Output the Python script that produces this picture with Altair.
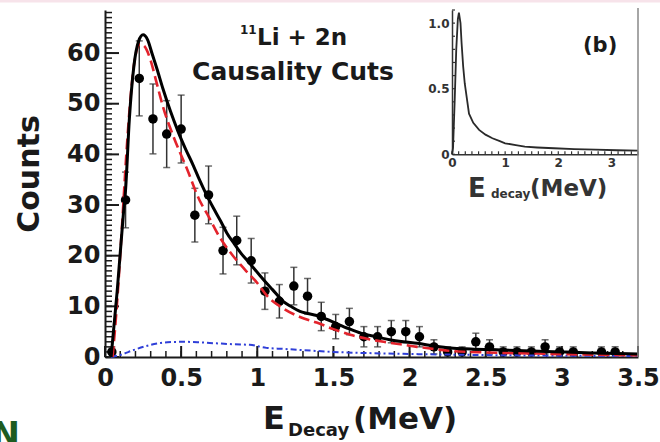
import altair as alt
import pandas as pd

# ---- measured decay-energy spectrum: bin centre (MeV), counts, stat. error ----
e_decay = [0.045, 0.135, 0.225, 0.315, 0.405, 0.50, 0.59, 0.68, 0.775, 0.865,
           0.96, 1.05, 1.145, 1.24, 1.33, 1.42, 1.515, 1.605, 1.70, 1.79,
           1.88, 1.975, 2.065, 2.16, 2.25, 2.345, 2.435, 2.525, 2.615, 2.705,
           2.80, 2.89, 2.985, 3.075, 3.26, 3.35]
counts = [1, 31, 55, 47, 44, 45, 28, 32, 21, 23,
          19, 13, 11, 14, 12, 8, 6, 7, 4, 4,
          5, 5, 4, 2, 1, 1, 3, 2, 1, 1,
          1, 2, 1, 1, 1, 1]
errors = [1.0, 5.5, 7.4, 6.9, 6.6, 6.7, 5.3, 5.7, 4.6, 4.8,
          4.4, 3.6, 3.3, 3.7, 3.5, 2.8, 2.4, 2.6, 2.0, 2.0,
          2.2, 2.2, 2.0, 1.4, 1.0, 1.0, 1.7, 1.4, 1.0, 1.0,
          1.0, 1.4, 1.0, 1.0, 1.0, 1.0]

# ---- total fit (solid black) ----
total_e = [0.04, 0.08, 0.12, 0.135, 0.16, 0.19, 0.22, 0.25, 0.28, 0.31, 0.34,
           0.38, 0.43, 0.48, 0.53, 0.58, 0.62, 0.67, 0.71, 0.76, 0.80, 0.85,
           0.89, 0.95, 1.02, 1.06, 1.10, 1.17, 1.22, 1.28, 1.33, 1.39, 1.45,
           1.52, 1.60, 1.68, 1.78, 1.87, 1.96, 2.05, 2.16, 2.27, 2.40, 2.60,
           2.80, 3.00, 3.20, 3.50]
total_c = [0.0, 13.0, 28.0, 33.0, 47.0, 57.5, 62.3, 63.6, 62.6, 59.8, 57.0,
           53.0, 48.5, 44.5, 41.0, 37.8, 35.0, 31.8, 29.5, 26.8, 24.5, 22.3,
           20.6, 18.5, 16.0, 14.6, 13.3, 11.0, 10.0, 9.0, 8.6, 8.2, 7.5,
           6.6, 5.6, 4.7, 4.0, 3.4, 3.0, 2.7, 2.2, 1.8, 1.6, 1.4,
           1.2, 1.0, 0.8, 0.6]

# ---- 2n component (red dashed) ----
red_e = [0.05, 0.08, 0.11, 0.14, 0.17, 0.20, 0.23, 0.26, 0.30, 0.34, 0.38,
         0.45, 0.54, 0.62, 0.67, 0.75, 0.84, 0.92, 1.00, 1.06, 1.17, 1.28,
         1.39, 1.50, 1.61, 1.72, 1.83, 1.94, 2.05, 2.16, 2.27, 2.50, 2.80,
         3.10, 3.50]
red_c = [0.0, 11.0, 25.0, 40.0, 52.0, 59.5, 61.8, 61.3, 58.5, 54.0, 49.5,
         43.5, 37.0, 31.0, 28.3, 23.8, 20.0, 17.2, 14.6, 12.2, 9.6, 7.9,
         6.8, 5.5, 4.4, 3.6, 3.0, 2.5, 2.0, 1.6, 1.2, 0.9, 0.7,
         0.5, 0.35]

# ---- background component (blue dash-dot) ----
blue_e = [0.04, 0.10, 0.19, 0.30, 0.41, 0.52, 0.62, 0.73, 0.85, 0.95, 1.06,
          1.17, 1.28, 1.50, 1.83, 2.20, 2.60, 3.00, 3.50]
blue_c = [0.0, 0.4, 1.4, 2.4, 2.9, 3.0, 2.9, 2.7, 2.5, 2.4, 1.8,
          1.6, 1.4, 1.0, 0.7, 0.5, 0.35, 0.25, 0.2]

# ---- inset (b): normalised decay-energy line shape ----
inset_e = [0.0, 0.02, 0.05, 0.08, 0.11, 0.13, 0.16, 0.18, 0.21, 0.24, 0.32,
           0.40, 0.51, 0.63, 0.76, 0.90, 1.00, 1.20, 1.37, 1.60, 1.92, 2.30,
           2.70, 3.10, 3.50]
inset_y = [0.0, 0.05, 0.40, 0.80, 1.03, 1.08, 1.00, 0.85, 0.67, 0.54, 0.31,
           0.24, 0.186, 0.15, 0.122, 0.10, 0.084, 0.07, 0.058, 0.052, 0.046,
           0.04, 0.035, 0.031, 0.028]

# tick positions
x_major = [0, 0.5, 1, 1.5, 2, 2.5, 3, 3.5]
x_minor = [i / 10 for i in range(0, 36)]
y_major = [0, 10, 20, 30, 40, 50, 60]
y_minor = list(range(0, 69))
inset_x_labels = [0, 1, 2, 3]
inset_y_labels = [0, 0.5, 1.0]
inset_x_minor = [i / 8 for i in range(0, 29)]
inset_y_minor = [i / 10 for i in range(0, 12)]

FONT = "DejaVu Sans"
INK = "#1a1a1a"
W, H = 533, 347

pts = pd.DataFrame({"E": e_decay, "C": counts, "err": errors})
pts["lo"] = pts["C"] - pts["err"]
pts["hi"] = pts["C"] + pts["err"]
total = pd.DataFrame({"E": total_e, "C": total_c})
red = pd.DataFrame({"E": red_e, "C": red_c})
blue = pd.DataFrame({"E": blue_e, "C": blue_c})
inset = pd.DataFrame({"E": inset_e, "Y": inset_y})
ONE = pd.DataFrame({"k": [0]})

X_DOM, Y_DOM = [0, 3.5], [0, 68.5]
XS = alt.Scale(domain=X_DOM, range=[0, W], nice=False, zero=False)
YS = alt.Scale(domain=Y_DOM, range=[H, 0], nice=False, zero=False)
# data units per screen pixel, used to size the inward tick marks
PX_X = (X_DOM[1] - X_DOM[0]) / W
PX_Y = (Y_DOM[1] - Y_DOM[0]) / H

x_axis = alt.Axis(orient="bottom", values=x_major, format="~g", tickSize=0,
                  labelPadding=9, labelFlush=False, labelOverlap=False,
                  labelFont=FONT, labelFontSize=24, labelFontWeight="bold",
                  labelColor=INK, domainColor=INK, domainWidth=2, grid=False,
                  title=None)
y_axis = alt.Axis(orient="left", values=y_major, tickSize=0, labelPadding=5,
                  labelOverlap=False, labelFont=FONT, labelFontSize=24,
                  labelFontWeight="bold", labelColor=INK, domainColor=INK,
                  domainWidth=2, grid=False, title=None)

# the plotted layers carry no axes; the axes come from a separate guide layer
X = alt.X("E:Q", scale=XS, axis=None)
Y = alt.Y("C:Q", scale=YS, axis=None)


def x_tick_marks(values, xs, ys, y0, length, width=1.5, color=INK):
    """Inward tick marks standing on a horizontal axis line at y0."""
    return alt.Chart(pd.DataFrame({"tx": values})).mark_rule(
        color=color, strokeWidth=width).encode(
        x=alt.X("tx:Q", scale=xs, axis=None),
        y=alt.Y(datum=y0, scale=ys, axis=None),
        y2=alt.Y2(datum=y0 + length))


def y_tick_marks(values, xs, ys, x0, length, width=1.5, color=INK):
    """Inward tick marks standing on a vertical axis line at x0."""
    return alt.Chart(pd.DataFrame({"ty": values})).mark_rule(
        color=color, strokeWidth=width).encode(
        y=alt.Y("ty:Q", scale=ys, axis=None),
        x=alt.X(datum=x0, scale=xs, axis=None),
        x2=alt.X2(datum=x0 + length))


bars = alt.Chart(pts).mark_rule(color="#333", strokeWidth=1.5).encode(
    x=X, y=alt.Y("lo:Q", scale=YS, axis=None), y2="hi:Q")
caps_hi = alt.Chart(pts).mark_tick(orient="horizontal", size=7, thickness=1.5,
                                   color="#333").encode(
    x=X, y=alt.Y("hi:Q", scale=YS, axis=None))
caps_lo = alt.Chart(pts).mark_tick(orient="horizontal", size=7, thickness=1.5,
                                   color="#333").encode(
    x=X, y=alt.Y("lo:Q", scale=YS, axis=None))
dots = alt.Chart(pts).mark_circle(size=90, color="black", opacity=1).encode(x=X, y=Y)
blue_line = alt.Chart(blue).mark_line(color="#2f3fd8", strokeWidth=2,
                                      strokeDash=[6, 3, 2, 3],
                                      interpolate="monotone").encode(x=X, y=Y)
red_line = alt.Chart(red).mark_line(color="#e3232c", strokeWidth=2.6,
                                    strokeDash=[11, 5],
                                    interpolate="monotone").encode(x=X, y=Y)
black_line = alt.Chart(total).mark_line(color="black", strokeWidth=3,
                                        interpolate="monotone").encode(x=X, y=Y)

main = alt.layer(
    x_tick_marks(x_major, XS, YS, 0, 11 * PX_Y, 2),
    x_tick_marks(x_minor, XS, YS, 0, 6 * PX_Y),
    y_tick_marks(y_major, XS, YS, 0, 14 * PX_X, 2),
    y_tick_marks(y_minor, XS, YS, 0, 7 * PX_X),
    bars, caps_hi, caps_lo, dots, blue_line, red_line, black_line,
)

# axis lines and tick labels of the main frame
main_guides = alt.Chart(pts).mark_circle(opacity=0).encode(
    x=alt.X("E:Q", scale=XS, axis=x_axis),
    y=alt.Y("C:Q", scale=YS, axis=y_axis))

# inset axes live in the upper-right corner of the same frame
IX0, IX1, IY0 = 347, W, 144.3
IX_DOM, IY_DOM = [0, 3.5], [0, 1.1]
IXS = alt.Scale(domain=IX_DOM, range=[IX0, IX1], nice=False, zero=False)
IYS = alt.Scale(domain=IY_DOM, range=[IY0, 0], nice=False, zero=False)
IPX_X = (IX_DOM[1] - IX_DOM[0]) / (IX1 - IX0)
IPX_Y = (IY_DOM[1] - IY_DOM[0]) / IY0

ix_axis = alt.Axis(orient="bottom", offset=-(H - IY0), values=inset_x_labels,
                   tickSize=0, labelPadding=3, labelFlush=False,
                   labelFont=FONT, labelFontSize=12, labelFontWeight="bold",
                   labelColor="#333", domainColor="#333", domainWidth=1.5,
                   grid=False, title=None)
iy_axis = alt.Axis(orient="left", offset=-IX0, values=inset_y_labels,
                   labelExpr="datum.value == 0 ? '0' : format(datum.value, '.1f')",
                   tickSize=0, labelPadding=3, labelFont=FONT,
                   labelFontSize=12, labelFontWeight="bold",
                   labelColor="#333", domainColor="#333", domainWidth=1.5,
                   grid=False, title=None)

inset_panel = alt.layer(
    x_tick_marks(inset_x_minor, IXS, IYS, 0, 3 * IPX_Y, 1.2, "#333"),
    y_tick_marks(inset_y_minor, IXS, IYS, 0, 3 * IPX_X, 1.2, "#333"),
    alt.Chart(inset).mark_line(color="#2a2a2a", strokeWidth=1.8).encode(
        x=alt.X("E:Q", scale=IXS, axis=None),
        y=alt.Y("Y:Q", scale=IYS, axis=None)),
)

inset_guides = alt.Chart(inset).mark_line(opacity=0).encode(
    x=alt.X("E:Q", scale=IXS, axis=ix_axis),
    y=alt.Y("Y:Q", scale=IYS, axis=iy_axis))


def label(text, x, y, size, align="left", angle=0, color=INK, baseline="alphabetic"):
    return alt.Chart(ONE).mark_text(
        text=text, align=align, baseline=baseline, angle=angle, font=FONT,
        fontWeight="bold", fontSize=size, color=color
    ).encode(x=alt.value(x), y=alt.value(y))


frame_right = alt.Chart(ONE).mark_rule(color="#888", strokeWidth=1.5).encode(
    x=alt.value(W), y=alt.value(-2), y2=alt.value(H))
top_band = alt.Chart(ONE).mark_rule(color="#f7e3ea", strokeWidth=3).encode(
    x=alt.value(-105), x2=alt.value(W + 22), y=alt.value(-9))

texts = [
    label("Counts", -75, 164, 30, align="center", angle=270, baseline="middle"),
    label("E", 158, 419, 32),
    label("Decay", 183, 426, 18),
    label("(MeV)", 248, 419, 31),
    label("11", 135, 24, 12),
    label("Li + 2n", 152, 35, 23),
    label("Causality Cuts", 188, 70, 25, align="center"),
    label("(b)", 478, 42, 21),
    label("E", 363, 187, 26, color="#333"),
    label("decay", 386, 188, 12, color="#333"),
    label("(MeV)", 425, 186, 23, color="#333"),
    label("N", -85, 436, 34, align="right", color="#1d5c21"),
]

chart = alt.layer(
    top_band, main, main_guides, inset_panel, inset_guides, frame_right, *texts
).resolve_scale(x="independent", y="independent").resolve_axis(
    x="independent", y="independent"
).properties(
    width=W, height=H,
    padding={"left": 105, "top": 10, "right": 22, "bottom": 85},
    autosize=alt.AutoSizeParams(type="none"),
    background="white",
).configure_view(stroke=None)

chart.save("out.html", embed_options={"renderer": "svg", "actions": False})
